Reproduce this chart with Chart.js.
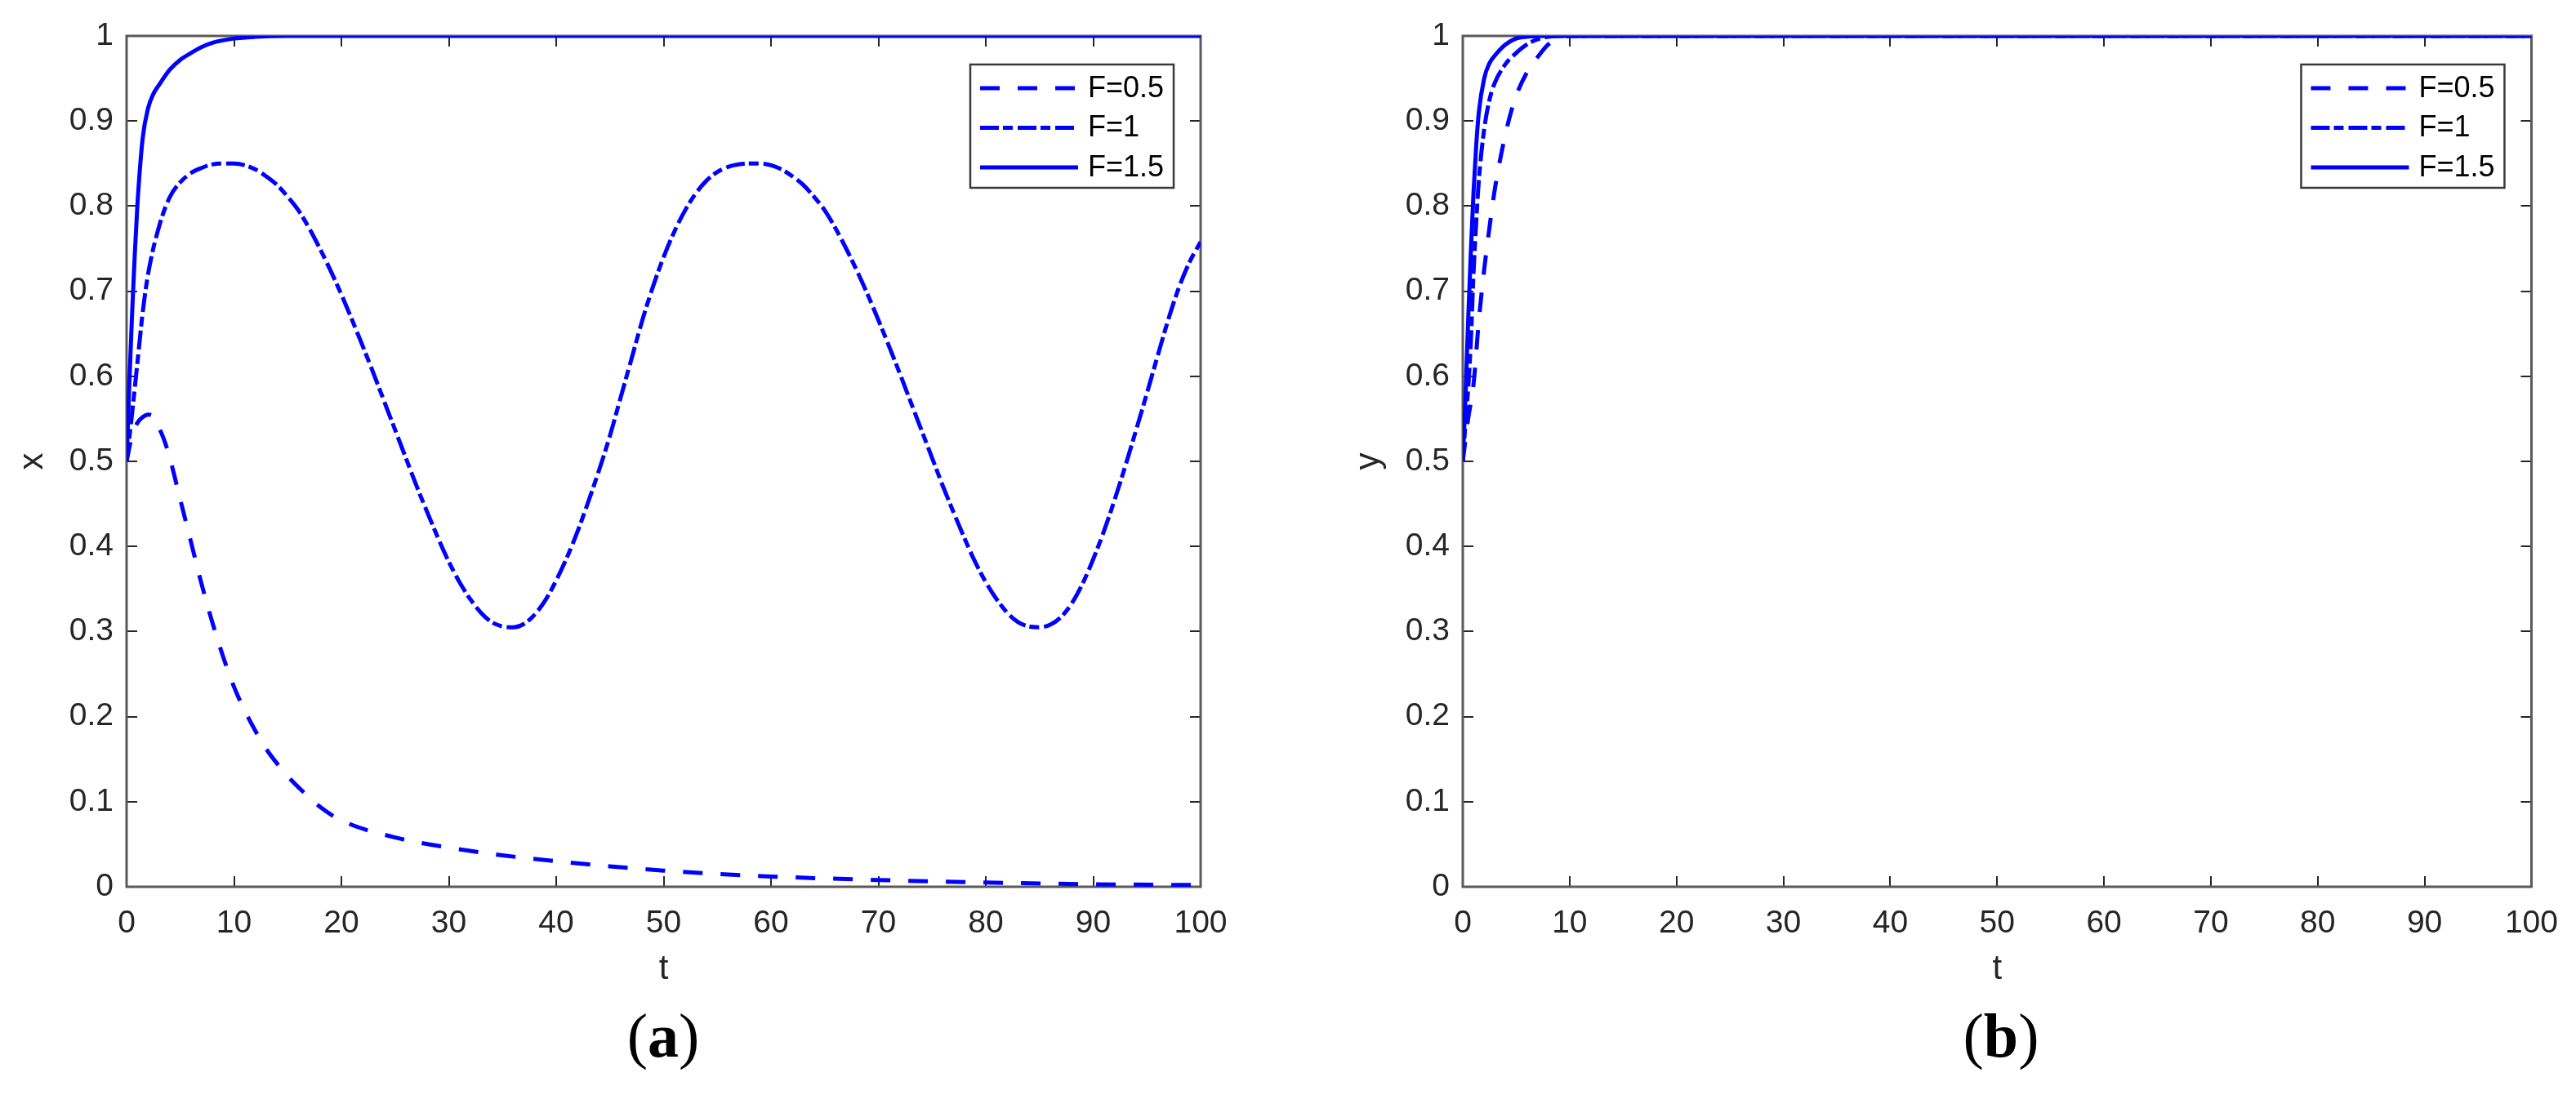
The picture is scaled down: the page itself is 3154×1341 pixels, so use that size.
<!DOCTYPE html>
<html>
<head>
<meta charset="utf-8">
<script src="https://cdn.jsdelivr.net/npm/chart.js@4.4.1/dist/chart.umd.min.js"></script>
<style>
  html, body { margin: 0; padding: 0; background: #fff; }
  #wrap { position: relative; width: 3154px; height: 1341px; overflow: hidden; background: #fff; }
  .panel { position: absolute; top: 0; width: 1577px; height: 1341px; }
  .cap {
    position: absolute; top: 1230px; transform: translateX(-50%);
    font-family: 'Liberation Serif', 'DejaVu Serif', serif; font-size: 76px; line-height: 1; color: #000;
  }
</style>
</head>
<body>
<div id="wrap">
  <div class="panel" style="left:0"><canvas id="chartA" width="1577" height="1341"></canvas></div>
  <div class="panel" style="left:1577px"><canvas id="chartB" width="1577" height="1341"></canvas></div>
  <div class="cap" style="left:812px">(<b>a</b>)</div>
  <div class="cap" style="left:2450px">(<b>b</b>)</div>
</div>
<script>
// ── datos (a): x(t) ──
const seriesLabels = ['F=0.5', 'F=1', 'F=1.5'];
const xTicks = [0, 10, 20, 30, 40, 50, 60, 70, 80, 90, 100];
const yTicks = [0, 0.1, 0.2, 0.3, 0.4, 0.5, 0.6, 0.7, 0.8, 0.9, 1];

const tA05 = [0, 0.5, 1, 1.5, 2, 2.5, 3, 3.5, 4, 5, 6, 7, 8, 9, 10, 11, 12, 13, 14, 15, 16, 18, 20, 25, 30, 35, 40, 45, 50, 55, 60, 70, 80, 90, 100];
const xA05 = [0.5, 0.53, 0.545, 0.552, 0.555, 0.553, 0.54, 0.525, 0.505, 0.455, 0.405, 0.355, 0.31, 0.27, 0.235, 0.207, 0.183, 0.162, 0.145, 0.13, 0.117, 0.094, 0.078, 0.058, 0.046, 0.037, 0.03, 0.024, 0.019, 0.015, 0.012, 0.008, 0.005, 0.003, 0.002];

const tA10 = [0, 0.5, 1, 1.5, 2, 3, 4, 5, 6, 7, 8, 9, 10, 11, 12, 13, 14, 15, 16, 17, 18, 19, 20,
  21, 22, 23, 24, 25, 26, 27, 28, 29, 30, 31, 32, 33, 34, 35, 36, 37, 38, 39, 40,
  41, 42, 43, 44, 45, 46, 47, 48, 49, 50, 51, 52, 53, 54, 55, 56, 57, 58, 59, 60,
  61, 62, 63, 64, 65, 66, 67, 68, 69, 70, 71, 72, 73, 74, 75, 76, 77, 78, 79, 80,
  81, 82, 83, 84, 85, 86, 87, 88, 89, 90, 91, 92, 93, 94, 95, 96, 97, 98, 99, 100];
const xA10 = [0.5, 0.555, 0.615, 0.675, 0.72, 0.775, 0.81, 0.828, 0.839, 0.845, 0.849, 0.85, 0.85, 0.848, 0.843, 0.835, 0.825, 0.811, 0.795, 0.774, 0.75, 0.724, 0.696,
  0.666, 0.635, 0.603, 0.57, 0.537, 0.504, 0.471, 0.44, 0.41, 0.382, 0.358, 0.338, 0.322, 0.311, 0.306, 0.305, 0.309, 0.32, 0.337, 0.36,
  0.387, 0.418, 0.453, 0.49, 0.53, 0.575, 0.62, 0.665, 0.705, 0.74, 0.77, 0.795, 0.815, 0.83, 0.84, 0.846, 0.849, 0.85, 0.85, 0.848,
  0.843, 0.835, 0.825, 0.811, 0.795, 0.774, 0.75, 0.724, 0.696, 0.666, 0.635, 0.603, 0.57, 0.537, 0.504, 0.471, 0.44, 0.41, 0.382, 0.358,
  0.338, 0.322, 0.311, 0.306, 0.305, 0.308, 0.317, 0.333, 0.356, 0.385, 0.418, 0.455, 0.495, 0.537, 0.58, 0.624, 0.667, 0.705, 0.735, 0.758];

const tA15 = [0, 0.25, 0.5, 0.75, 1, 1.5, 2, 2.5, 3, 4, 5, 6, 7, 8, 10, 12, 15, 20, 30, 40, 50, 60, 70, 80, 90, 100];
const xA15 = [0.5, 0.59, 0.67, 0.74, 0.8, 0.88, 0.915, 0.932, 0.942, 0.96, 0.972, 0.98, 0.987, 0.992, 0.997, 0.999, 1, 1, 1, 1, 1, 1, 1, 1, 1, 1];

// ── datos (b): y(t) ──
const tB05 = [0, 0.5, 1, 1.5, 2, 2.5, 3, 3.5, 4, 4.5, 5, 6, 7, 8, 9, 10, 20, 30, 40, 50, 60, 70, 80, 90, 100];
const yB05 = [0.5, 0.55, 0.59, 0.665, 0.725, 0.775, 0.82, 0.855, 0.885, 0.91, 0.93, 0.957, 0.975, 0.99, 0.997, 1, 1, 1, 1, 1, 1, 1, 1, 1, 1];

const tB10 = [0, 0.25, 0.5, 0.75, 1, 1.25, 1.5, 2, 2.5, 3, 4, 5, 6, 7, 8, 10, 20, 30, 40, 50, 60, 70, 80, 90, 100];
const yB10 = [0.5, 0.545, 0.585, 0.64, 0.72, 0.78, 0.83, 0.89, 0.925, 0.945, 0.967, 0.98, 0.99, 0.996, 0.999, 1, 1, 1, 1, 1, 1, 1, 1, 1, 1];

const tB15 = [0, 0.25, 0.5, 0.75, 1, 1.25, 1.5, 2, 2.5, 3, 4, 5, 6, 8, 10, 20, 30, 40, 50, 60, 70, 80, 90, 100];
const yB15 = [0.5, 0.575, 0.665, 0.745, 0.815, 0.87, 0.91, 0.95, 0.968, 0.977, 0.99, 0.997, 0.999, 1, 1, 1, 1, 1, 1, 1, 1, 1, 1, 1];

// ── estilos ──
const BLUE = '#0000ff';
const TXT = '#262626';
const FRAME = '#5a5a5a';
const FONT = "'Liberation Sans', Arial, sans-serif";
const DASHES = [[24, 22], [23, 5, 12, 6], []];
const TICK_LEN = 13;

const pts = (ts, vs) => ts.map((t, i) => ({ x: t, y: vs[i] }));

// marco + ticks hacia adentro (estilo MATLAB)
const frame = {
  id: 'frame',
  beforeDatasetsDraw(chart) {
    const { ctx, chartArea: a, scales: { x, y } } = chart;
    ctx.save();
    ctx.strokeStyle = TXT;
    ctx.lineWidth = 2;
    ctx.beginPath();
    x.ticks.forEach(tk => {
      if (tk.value <= x.min || tk.value >= x.max) return;
      const px = Math.round(x.getPixelForValue(tk.value));
      ctx.moveTo(px, a.bottom); ctx.lineTo(px, a.bottom - TICK_LEN);
      ctx.moveTo(px, a.top);    ctx.lineTo(px, a.top + TICK_LEN);
    });
    y.ticks.forEach(tk => {
      if (tk.value <= y.min || tk.value >= y.max) return;
      const py = Math.round(y.getPixelForValue(tk.value));
      ctx.moveTo(a.left, py);  ctx.lineTo(a.left + TICK_LEN, py);
      ctx.moveTo(a.right, py); ctx.lineTo(a.right - TICK_LEN, py);
    });
    ctx.stroke();
    ctx.strokeStyle = FRAME;
    ctx.lineWidth = 3;
    ctx.strokeRect(a.left, a.top, a.width, a.height);
    ctx.restore();
  }
};

// leyenda dentro del área, con caja
const boxLegend = {
  id: 'boxLegend',
  afterDatasetsDraw(chart) {
    const { ctx, chartArea: a } = chart;
    const bx = a.right - 282, by = a.top + 35, bw = 249, bh = 151;
    ctx.save();
    ctx.fillStyle = '#fff';
    ctx.fillRect(bx, by, bw, bh);
    ctx.strokeStyle = '#3a3a3a';
    ctx.lineWidth = 2.5;
    ctx.strokeRect(bx, by, bw, bh);
    chart.data.datasets.forEach((ds, i) => {
      const ly = by + 29 + i * 48.5;
      ctx.setLineDash(ds.borderDash || []);
      ctx.strokeStyle = ds.borderColor;
      ctx.lineWidth = ds.borderWidth;
      ctx.beginPath();
      ctx.moveTo(bx + 12, ly);
      ctx.lineTo(bx + 132, ly);
      ctx.stroke();
      ctx.setLineDash([]);
      ctx.fillStyle = '#000';
      ctx.font = '36px ' + FONT;
      ctx.textBaseline = 'middle';
      ctx.fillText(ds.label, bx + 144, ly + 1);
    });
    ctx.restore();
  }
};

function makeChart(canvasId, yTitle, series, padLeft, padRight) {
  const ctx = document.getElementById(canvasId);
  return new Chart(ctx.getContext('2d'), {
    type: 'line',
    data: {
      datasets: series.map((s, i) => ({
        label: seriesLabels[i],
        data: pts(s[0], s[1]),
        borderColor: BLUE,
        borderWidth: 5,
        borderDash: DASHES[i],
        pointRadius: 0,
        fill: false,
        cubicInterpolationMode: 'monotone',
      })),
    },
    options: {
      responsive: false,
      animation: false,
      devicePixelRatio: 1,
      layout: { padding: { left: padLeft, right: padRight, top: 44, bottom: 115 } },
      plugins: { legend: { display: false }, tooltip: { enabled: false } },
      scales: {
        x: {
          type: 'linear', min: 0, max: 100,
          afterFit: s => { s.height = 140; },
          afterBuildTicks: s => { s.ticks = xTicks.map(v => ({ value: v })); },
          border: { display: false },
          grid: { display: false, drawTicks: false },
          ticks: { color: TXT, font: { family: FONT, size: 39 }, padding: 22, maxRotation: 0, autoSkip: false },
          title: { display: true, text: 't', color: TXT, font: { family: FONT, size: 42 }, padding: { top: 0, bottom: 13 } },
        },
        y: {
          min: 0, max: 1,
          afterFit: s => { s.width = 155; },
          afterBuildTicks: s => { s.ticks = yTicks.map(v => ({ value: v })); },
          border: { display: false },
          grid: { display: false, drawTicks: false },
          ticks: {
            color: TXT, font: { family: FONT, size: 39 }, padding: 16, autoSkip: false,
            callback: v => String(Math.round(v * 10) / 10),
          },
          title: { display: true, text: yTitle, color: TXT, font: { family: FONT, size: 42 }, padding: { top: 15, bottom: 0 } },
        },
      },
    },
    plugins: [frame, boxLegend],
  });
}

makeChart('chartA', 'x', [[tA05, xA05], [tA10, xA10], [tA15, xA15]], 0, 107);
makeChart('chartB', 'y', [[tB05, yB05], [tB10, yB10], [tB15, yB15]], 59, 44);
</script>
</body>
</html>
